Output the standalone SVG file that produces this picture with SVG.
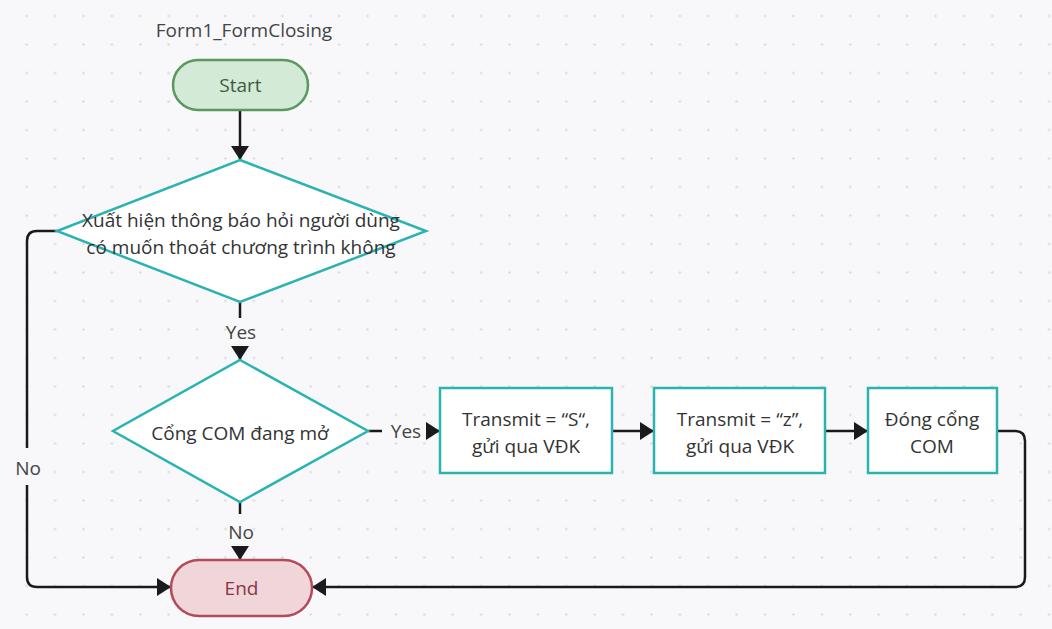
<svg xmlns="http://www.w3.org/2000/svg" width="1052" height="629" viewBox="0 0 1052 629">
<defs>
<pattern id="dots" patternUnits="userSpaceOnUse" x="12.5" y="1.75" width="28.4" height="28.5">
<circle cx="14.2" cy="14.25" r="1.3" fill="#dcdce0"/>
</pattern>
<marker id="arr" viewBox="0 0 14 18" refX="14" refY="9" markerWidth="14" markerHeight="18" markerUnits="userSpaceOnUse" orient="auto">
<path d="M0,0 L14,9 L0,18 Z" fill="#1a1a1a"/>
</marker>
<style>
.t{font-family:"Open Sans","Noto Sans","Liberation Sans",sans-serif;font-size:19px;fill:#333;text-anchor:middle}
.lbl{font-family:"Open Sans","Noto Sans","Liberation Sans",sans-serif;font-size:19px;fill:#444;text-anchor:middle}
.ln{fill:none;stroke:#1a1a1a;stroke-width:2.5}
.dec{fill:#ffffff;stroke:#2bb3b1;stroke-width:2.5}
.box{fill:#ffffff;stroke:#2bb3b1;stroke-width:2.5}
</style>
</defs>
<rect width="1052" height="629" fill="#f8f8fa"/>
<rect width="1052" height="629" fill="url(#dots)"/>

<text class="lbl" x="244" y="37">Form1_FormClosing</text>

<g id="connectors">
<path class="ln" d="M240,110 V160" marker-end="url(#arr)"/>
<path class="ln" d="M240,302 V318"/>
<text class="lbl" x="241" y="339">Yes</text>
<path class="ln" d="M240,346 V360" marker-end="url(#arr)"/>
<path class="ln" d="M368,431 H382"/>
<text class="lbl" x="406" y="438">Yes</text>
<path class="ln" d="M426,431 H440" marker-end="url(#arr)"/>
<path class="ln" d="M240,502 V514"/>
<text class="lbl" x="241" y="539">No</text>
<path class="ln" d="M240,546 V560" marker-end="url(#arr)"/>
<path class="ln" d="M57,231 H37 Q27,231 27,241 V448"/>
<text class="lbl" x="28" y="475">No</text>
<path class="ln" d="M27,485 V577 Q27,587 37,587 H171" marker-end="url(#arr)"/>
<path class="ln" d="M612,431 H654" marker-end="url(#arr)"/>
<path class="ln" d="M825,431 H868" marker-end="url(#arr)"/>
<path class="ln" d="M997,431 H1015 Q1025,431 1025,441 V577 Q1025,587 1015,587 H312" marker-end="url(#arr)"/>
</g>

<g id="start">
<rect x="173" y="60" width="135" height="50" rx="25" fill="#d3ebd6" stroke="#5b975f" stroke-width="2.5"/>
<text class="t" x="240.5" y="92" style="fill:#3f5a42">Start</text>
</g>

<g id="decision1">
<polygon class="dec" points="240,160 426,231 240,302 57,231"/>
<text class="t" x="241" y="227">Xuất hiện thông báo hỏi người dùng</text>
<text class="t" x="241" y="254">có muốn thoát chương trình không</text>
</g>

<g id="decision2">
<polygon class="dec" points="240,360 368,431 240,502 113,431"/>
<text class="t" x="240" y="440">Cổng COM đang mở</text>
</g>

<g id="box1">
<rect class="box" x="440" y="388" width="172" height="85"/>
<text class="t" x="526" y="426">Transmit = “S“,</text>
<text class="t" x="526" y="453">gửi qua VĐK</text>
</g>

<g id="box2">
<rect class="box" x="654" y="388" width="171" height="85"/>
<text class="t" x="740" y="426">Transmit = “z”,</text>
<text class="t" x="740" y="453">gửi qua VĐK</text>
</g>

<g id="box3">
<rect class="box" x="868" y="388" width="129" height="85"/>
<text class="t" x="932" y="426">Đóng cổng</text>
<text class="t" x="932" y="453">COM</text>
</g>

<g id="end">
<rect x="171" y="560" width="141" height="56" rx="28" fill="#f0d6d9" stroke="#b24a5c" stroke-width="2.5"/>
<text class="t" x="241.5" y="595" style="fill:#8a3345">End</text>
</g>
</svg>
